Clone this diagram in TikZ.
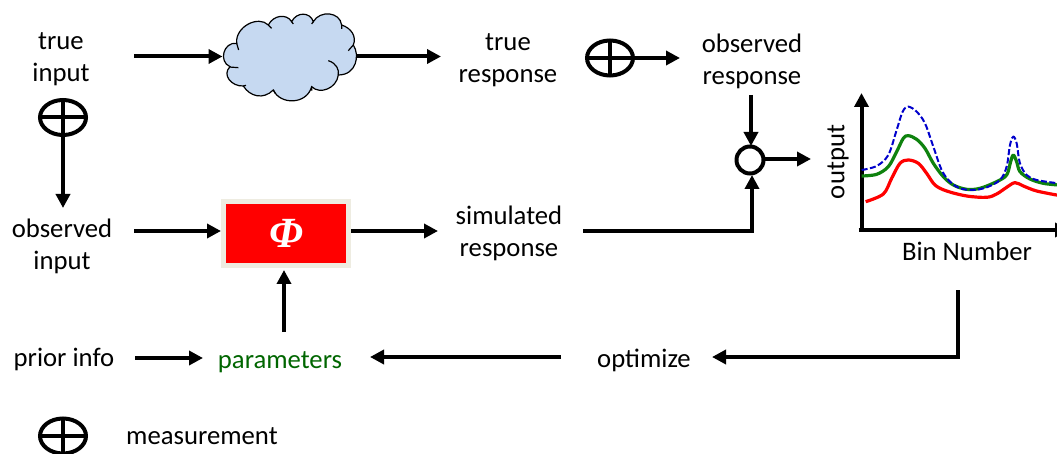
\documentclass[tikz,border=0pt]{standalone}
\usepackage{fontspec}
\setmainfont{Carlito}
\newfontfamily\phifont{Liberation Serif}
\usetikzlibrary{arrows.meta,shapes.geometric}
\definecolor{cloudfill}{HTML}{C6D9F1}
\definecolor{boxedge}{HTML}{EEECE1}
\definecolor{paramgreen}{HTML}{006600}
\definecolor{curvegreen}{HTML}{0E820E}
\definecolor{curveblue}{HTML}{0000CC}
\tikzset{
  label text/.style={inner sep=0pt,align=center,font=\fontsize{26.7}{32}\selectfont,text=black},
  conn/.style={line width=4pt,-{Triangle[length=14pt,width=14pt]}},
  measure/.style={draw=black,line width=4pt,ellipse,minimum width=46pt,minimum height=35pt,inner sep=0pt,
    path picture={\draw[line width=4pt] (path picture bounding box.west)--(path picture bounding box.east)
      (path picture bounding box.north)--(path picture bounding box.south);}},
  curve/.style={line width=3.2pt,line join=round}
}
\begin{document}
\begin{tikzpicture}[x=1pt,y=-1pt]
\clip (0,0) rectangle (1057,454);
\fill[white] (0,0) rectangle (1057,454);
% text nodes
\node[label text] (trueinput) at (61,59.5) {true\\input};
\node[label text] (trueresp) at (508,60) {true\\response};
\node[label text] (obsresp) at (752,61.5) {observed\\response};
\node[label text] (obsinput) at (62,246) {observed\\input};
\node[label text] (simresp) at (509,233.5) {simulated\\response};
\node[label text] (prior) at (64,359) {prior info};
\node[label text,text=paramgreen] (params) at (280,362.5) {parameters};
\node[label text] (optimize) at (644,360) {optimize};
\node[label text,anchor=west] (measlabel) at (126,436) {measurement};
\node[label text] (binnum) at (967,251) {Bin Number};
\node[label text,rotate=90] (outlabel) at (838,162) {output};
% plot anchors
\coordinate (cloudL) at (222.5,56.5);
\coordinate (cloudR) at (356,56.5);
\coordinate (axisO) at (861.5,230);
% symbols
\node[measure] (minput) at (63,117.5) {};
\node[measure] (mresp) at (610,58) {};
\node[measure] (mlegend) at (63,436) {};
\node[draw=boxedge,fill=red,line width=5pt,minimum width=125pt,minimum height=64pt,inner sep=0pt] (phi) at (286,233.5)
  {\raisebox{-3.5pt}{\phifont\bfseries\itshape\fontsize{43}{43}\selectfont\textcolor{white}{Φ}}};
% connectors
\draw[conn] ([xshift=73pt,yshift=3pt]trueinput.center) -- (cloudL);
\draw[conn] (cloudR) -- ([xshift=-67pt,yshift=3.5pt]trueresp.center);
\draw[conn] ([xshift=24pt]mresp.center) -- ([xshift=-72pt,yshift=3.5pt]obsresp.center);
\draw[conn] ([yshift=-18pt]minput.center) -- ([xshift=1pt,yshift=38pt]obsinput.center);
\draw[conn] ([xshift=72pt,yshift=15pt]obsinput.center) -- ([xshift=-65pt,yshift=2.5pt]phi.center);
\draw[conn] ([xshift=65pt,yshift=2.5pt]phi.center) -- ([xshift=-71pt,yshift=2.5pt]simresp.center);
% sum junction
\node[draw=black,line width=4pt,circle,minimum size=27pt,inner sep=0pt] (sum) at (750,160) {};
\draw[conn] ([xshift=74pt,yshift=2.5pt]simresp.center) -| ([xshift=2pt,yshift=-15pt]sum.center);
\draw[conn] ([xshift=-1pt,yshift=-33.5pt]obsresp.center) -- ([xshift=1pt,yshift=14pt]sum.center);
\draw[conn] ([xshift=15pt,yshift=1pt]sum.center) -- ([xshift=61pt,yshift=1pt]sum.center);
\draw[conn] ([xshift=4pt,yshift=30.5pt]params.center) -- ([xshift=-2pt,yshift=-36.5pt]phi.center);
\draw[conn] ([xshift=71pt,yshift=1pt]prior.center) -- ([xshift=-77pt,yshift=4.5pt]params.center);
\draw[conn] ([xshift=-83pt,yshift=3pt]optimize.center) -- ([xshift=90pt,yshift=5.5pt]params.center);
\draw[conn] ([xshift=-9pt,yshift=-39pt]binnum.center) |- ([xshift=68pt,yshift=3pt]optimize.center);
% axes
\draw[conn] ([yshift=-2pt]axisO) -- (861.5,93);
\draw[conn] ([xshift=-3pt]axisO) -- (1069,230);
% cloud
\begin{scope}[shift={(200,0)},x=0.3333pt,y=-0.3333pt]
\draw[fill=cloudfill,draw=black,line width=1.2pt]
 (110,130) .. controls (105,80) and (175,45) .. (205,75)
 .. controls (220,45) and (260,40) .. (275,65)
 .. controls (290,35) and (330,35) .. (340,65)
 .. controls (360,30) and (420,35) .. (425,75)
 .. controls (455,85) and (470,110) .. (460,135)
 .. controls (480,165) and (470,225) .. (415,225)
 .. controls (410,265) and (360,285) .. (335,260)
 .. controls (320,315) and (240,315) .. (220,270)
 .. controls (190,300) and (150,290) .. (130,258)
 .. controls (95,260) and (65,225) .. (90,200)
 .. controls (55,185) and (70,125) .. (110,130) -- cycle;
\draw[line width=1.2pt] (88,201)--(115,203) (110,130)..controls (110,140)..(116,150)
 (205,75)--(215,85) (275,65)--(280,72) (340,65)--(335,72) (425,75)--(425,87)
 (460,135)--(445,152) (385,182)..controls (410,190) and (418,210)..(415,225)
 (335,260)--(335,272) (220,270)--(226,280) (130,258)--(138,256);
\end{scope}
% curves
\begin{scope}[shift={(720,80)},x=0.3333pt,y=-0.3333pt]
\draw[curve,red] plot[smooth,tension=0.55] coordinates {(437,365) (490,342) (515,295) (540,250) (565,240) (595,250) (620,280) (645,315) (680,333) (740,348) (800,352) (830,342) (860,322) (885,308) (910,318) (950,333) (1015,346)};
\draw[curve,curvegreen] plot[smooth,tension=0.55] coordinates {(425,288) (470,283) (505,260) (530,215) (550,175) (565,167) (590,178) (615,205) (640,250) (670,290) (700,315) (740,328) (780,325) (830,305) (860,285) (872,245) (880,225) (890,245) (900,275) (930,297) (970,310) (1015,315)};
\draw[line width=2pt,curveblue,dash pattern=on 6pt off 2.5pt] plot[smooth,tension=0.55] coordinates {(425,270) (470,258) (505,225) (530,150) (548,95) (565,80) (590,95) (615,130) (640,200) (665,270) (690,305) (720,325) (760,330) (800,322) (840,300) (860,260) (870,195) (880,170) (890,190) (900,250) (920,285) (950,300) (1015,310)};
\end{scope}
\end{tikzpicture}
\end{document}
